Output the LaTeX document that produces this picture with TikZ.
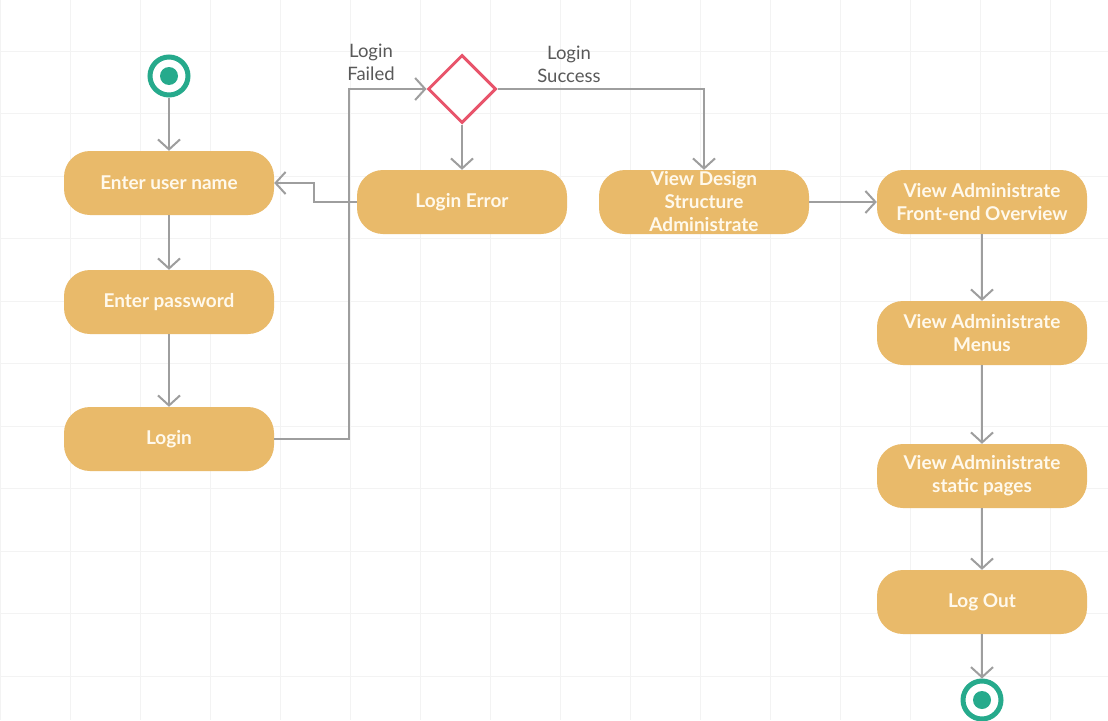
\documentclass[tikz,border=0pt]{standalone}
\usepackage{fontspec}
\setmainfont{Lato}
\usepackage{tikz}
\usetikzlibrary{arrows,arrows.meta,shapes,positioning}
\definecolor{dfsand}{RGB}{233,186,106}
\definecolor{dfcream}{RGB}{255,249,236}
\definecolor{dfgray}{RGB}{158,158,158}
\definecolor{dfteal}{RGB}{38,170,140}
\definecolor{dfpink}{RGB}{232,84,107}
\definecolor{gridgray}{RGB}{243,243,243}
\tikzstyle{arrow} = [line width=2pt,-{Straight Barb[length=10pt,width=22pt]},color=dfgray]
\tikzstyle{activity} = [rectangle, rounded corners=26pt, minimum width=210pt, minimum height=64pt, text centered, align=center, inner sep=0pt, fill=dfsand, text=dfcream, font=\fontsize{19}{23}\selectfont\bfseries]
\tikzstyle{choice} = [diamond, minimum width=68pt, minimum height=68pt, inner sep=0pt, draw=dfpink, line width=3pt, fill=white]
\tikzstyle{ends} = [circle, minimum size=38pt, inner sep=0pt, draw=dfteal, line width=5pt, fill=white, path picture={\fill[dfteal] (path picture bounding box.center) circle (9pt);}]
\tikzstyle{guard} = [text=black!65, font=\fontsize{18.5}{23}\selectfont, align=center]

\begin{document}
\begin{tikzpicture}[x=1pt,y=-1pt]
\useasboundingbox (0,0) rectangle (1108,720);
\fill[white] (0,0) rectangle (1108,720);
% Grid
\foreach \gx in {0,70,...,1100} \draw[gridgray, line width=1pt] (\gx,0) -- (\gx,720);
\foreach \gy in {51,113.5,...,720} \draw[gridgray, line width=1pt] (0,\gy) -- (1108,\gy);

% Left column
\node (start) [ends] at (169,76) {};
\node (user) [activity, below of=start, node distance=107pt] {Enter user name};
\node (pass) [activity, below of=user, node distance=119pt] {Enter password};
\node (login) [activity, below of=pass, node distance=137pt] {Login};

% Decision and top row
\node (check) [choice] at (462,89) {};
\node (error) [activity, below of=check, node distance=113pt] {Login Error};
\node (design) [activity, right of=error, node distance=242pt] {View Design\\Structure\\Administrate};
\node (front) [activity, right of=design, node distance=278pt] {View Administrate\\Front-end Overview};

% Right column
\node (menus) [activity, below of=front, node distance=131pt] {View Administrate\\Menus};
\node (static) [activity, below of=menus, node distance=143pt] {View Administrate\\static pages};
\node (logout) [activity, below of=static, node distance=126pt] {Log Out};
\node (stop) [ends, below of=logout, node distance=98pt] {};

% Guard labels
\node (failed) [guard] at (371,62) {Login\\Failed};
\node (success) [guard] at (569,64) {Login\\Success};

% Connectors
\draw[arrow] (start) -- (user);
\draw[arrow] (user) -- (pass);
\draw[arrow] (pass) -- (login);
\draw[arrow] (login.east) -- ++(75,0) |- (check.west);
\draw[arrow] (check.south) -- (error.north);
\draw[arrow] (error.west) -- ++(-43,0) |- (user.east);
\draw[arrow] (check.east) -| (design.north);
\draw[arrow] (design) -- (front);
\draw[arrow] (front) -- (menus);
\draw[arrow] (menus) -- (static);
\draw[arrow] (static) -- (logout);
\draw[arrow] (logout) -- (stop);
\end{tikzpicture}
\end{document}
